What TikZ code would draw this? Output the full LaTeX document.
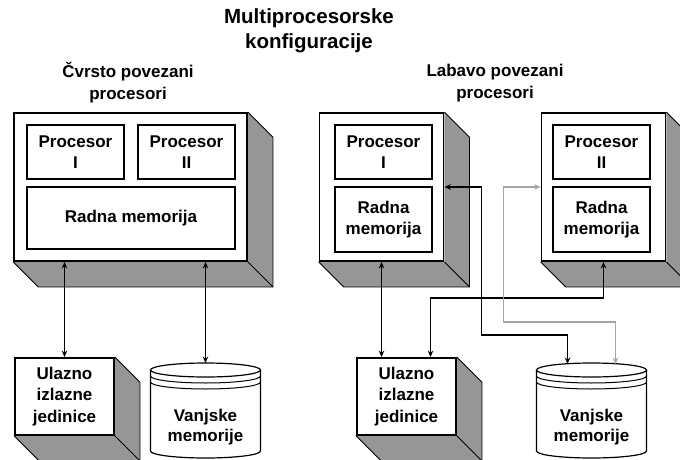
\documentclass[tikz,border=0pt]{standalone}
\usepackage{fontspec}
\setmainfont{Liberation Sans}
\usetikzlibrary{arrows.meta,backgrounds,calc}
\definecolor{sjenka}{RGB}{150,150,150}
\definecolor{sivalinija}{RGB}{165,165,165}

\tikzset{
  tekst/.style={font=\fontsize{17}{21.5}\selectfont\bfseries, align=center},
  kutija/.style={tekst, draw, line width=1.8pt, fill=white, inner sep=0pt},
  unutra/.style={tekst, draw, line width=1.4pt, fill=white, inner sep=0pt},
  disk/.style={inner sep=0pt, outer sep=0pt, minimum width=110pt, minimum height=95pt},
  veza/.style={line width=1.6pt, {Stealth[length=6.5pt,width=5.5pt]}-{Stealth[length=6.5pt,width=5.5pt]}},
}

% gray side and bottom of a block
\newcommand\sjena[1]{%
  \fill[sjenka] (#1.north east) -- ($(#1.north east)+(25,25)$) -- ($(#1.south east)+(25,25)$)
    -- ($(#1.south west)+(25,25)$) -- (#1.south west) -- (#1.south east) -- cycle;
  \draw[line width=0.8pt] (#1.north east) -- ($(#1.north east)+(25,25)$) -- ($(#1.south east)+(25,25)$)
    -- ($(#1.south west)+(25,25)$) -- (#1.south west);
  \draw[line width=0.8pt] (#1.south east) -- ++(25,25);
}
% disk stack
\newcommand\valjak[1]{%
  \draw[line width=1.2pt, fill=white] ($(#1.north west)+(0,7)$) -- ($(#1.south west)+(0,-7)$)
    arc[start angle=180, end angle=360, x radius=55pt, y radius=7pt] -- ($(#1.north east)+(0,7)$);
  \draw[line width=1.2pt, fill=white] ($(#1.north)+(0,7)$) ellipse [x radius=55pt, y radius=7pt];
  \foreach \r in {6,12}{
    \draw[line width=1pt] ($(#1.north west)+(0,7+\r)$) arc[start angle=180, end angle=360, x radius=55pt, y radius=7pt];
  }
}

\begin{document}
\begin{tikzpicture}[x=1pt, y=-1pt]
  \useasboundingbox (0,0) rectangle (680,460);

  % titles
  \node[tekst, font=\fontsize{20.5}{25}\selectfont\bfseries] (naslov) at (309,30.5) {Multiprocesorske\\konfiguracije};
  \node[tekst, font=\fontsize{17}{22}\selectfont\bfseries] (cvrsto) at (128,83) {Čvrsto povezani\\procesori};
  \node[tekst, font=\fontsize{17}{22}\selectfont\bfseries] (labavo) at (495,83) {Labavo povezani\\procesori};

  % tightly coupled
  \node[kutija, minimum width=233pt, minimum height=148pt] (cvL) at (130.5,187) {};
  \node[unutra, minimum width=97pt, minimum height=54pt] (p1L) at (75.5,152) {Procesor\\I};
  \node[unutra, minimum width=97pt, minimum height=54pt] (p2L) at (186.5,152) {Procesor\\II};
  \node[unutra, minimum width=208pt, minimum height=62pt] (rmL) at (131,218) {Radna memorija};
  \node[kutija, minimum width=99pt, minimum height=77pt] (ioL) at (64.5,396.5) {Ulazno\\izlazne\\jedinice};
  \node[disk] (vmL) at (205.5,410.5) {};

  % loosely coupled
  \node[kutija, minimum width=124pt, minimum height=148pt] (laA) at (381.5,187) {};
  \node[unutra, minimum width=97pt, minimum height=54pt] (p1R) at (383.5,152) {Procesor\\I};
  \node[unutra, minimum width=97pt, minimum height=65pt] (rm1R) at (383.5,219.5) {Radna\\memorija};
  \node[kutija, minimum width=124pt, minimum height=148pt] (laB) at (603.5,187) {};
  \node[unutra, minimum width=97pt, minimum height=54pt] (p2R) at (601.5,152) {Procesor\\II};
  \node[unutra, minimum width=97pt, minimum height=65pt] (rm2R) at (601.5,219.5) {Radna\\memorija};
  \node[kutija, minimum width=99pt, minimum height=77pt] (ioR) at (406.5,396.5) {Ulazno\\izlazne\\jedinice};
  \node[disk] (vmR) at (591.5,410.5) {};

  \begin{scope}[on background layer]
    \foreach \b in {cvL,ioL,laA,laB,ioR}{\sjena{\b}}
  \end{scope}

  \valjak{vmL}
  \valjak{vmR}
  \node[tekst, font=\fontsize{17}{20}\selectfont\bfseries] (vmLt) at ($(vmL)+(0,17)$) {Vanjske\\memorije};
  \node[tekst, font=\fontsize{17}{20}\selectfont\bfseries] (vmRt) at ($(vmR)+(0,17)$) {Vanjske\\memorije};

  % connections
  \draw[veza] (ioL.north) -- (ioL.north |- cvL.south);
  \draw[veza] (vmL.north) -- (vmL.north |- cvL.south);
  \draw[veza] (laA.south) -- (laA.south |- ioR.north);
  \draw[veza] (laB.south) -- ++(0,36) -| ($(ioR.north)+(24,0)$);
  \draw[veza] (laA.east) -- ++(37,0) -- ++(0,148) -| ($(vmR.north)+(-24,1)$);
  \draw[veza, sivalinija] (laB.west) -- ++(-37,0) -- ++(0,135) -| ($(vmR.north)+(24,1)$);
\end{tikzpicture}
\end{document}
